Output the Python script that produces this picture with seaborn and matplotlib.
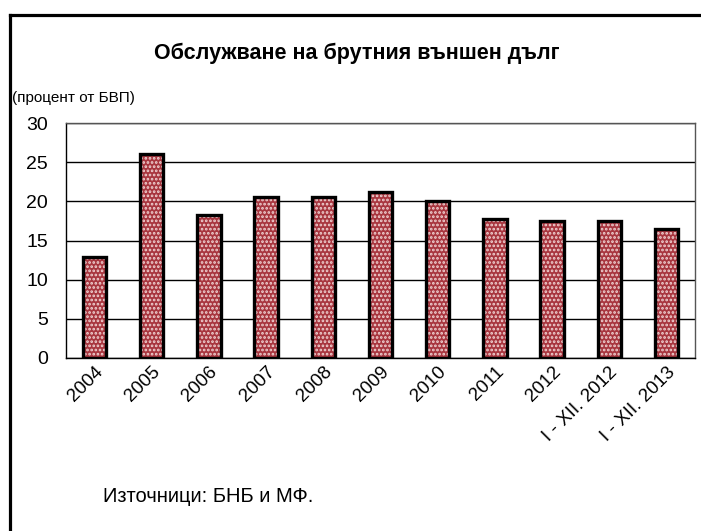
import matplotlib
matplotlib.use("Agg")
import matplotlib.pyplot as plt
from matplotlib.patches import Rectangle
from matplotlib.lines import Line2D
import seaborn as sns
import pandas as pd

categories = ["2004", "2005", "2006", "2007", "2008", "2009", "2010", "2011", "2012",
              "I - XII. 2012", "I - XII. 2013"]
values = [12.9, 26.0, 18.2, 20.5, 20.5, 21.2, 20.1, 17.7, 17.5, 17.5, 16.5]
yticks = [0, 5, 10, 15, 20, 25, 30]

title = "Обслужване на брутния външен дълг"
unit_label = "(процент от БВП)"
source = "Източници: БНБ и МФ."

sns.set_style("white")
plt.rcParams['font.family'] = ['Liberation Sans', 'DejaVu Sans']
plt.rcParams['hatch.linewidth'] = 1.3
plt.rcParams['text.color'] = 'black'
plt.rcParams['xtick.color'] = 'black'
plt.rcParams['ytick.color'] = 'black'

df = pd.DataFrame({"cat": categories, "val": values})

W, H = 701, 531
fig = plt.figure(figsize=(W / 100, H / 100), dpi=100)
ax = fig.add_axes([66 / W, 1 - 358 / H, (695 - 66) / W, (358 - 123) / H])

sns.barplot(data=df, x="cat", y="val", ax=ax, color="#a8363f", width=0.41,
            saturation=1)
for p in list(ax.patches):
    p.set_hatch("....")
    p.set_edgecolor("#f0d4d4")
    p.set_linewidth(0)
    ax.add_patch(Rectangle(p.get_xy(), p.get_width(), p.get_height(), fill=False,
                           edgecolor="black", linewidth=2.4, zorder=3))

ax.set_ylim(0, 30)
ax.set_xlim(-0.5, len(categories) - 0.5)
ax.set_yticks(yticks)
ax.set_yticklabels([str(t) for t in yticks], fontsize=14)
ax.yaxis.grid(True, color="black", linewidth=1)
ax.set_axisbelow(True)
ax.set_xlabel("")
ax.set_ylabel("")
ax.set_xticks(range(len(categories)))
ax.set_xticklabels(categories, rotation=45, ha="right", rotation_mode="anchor",
                   fontsize=13.5)
ax.tick_params(axis="x", length=0, pad=4)
ax.set_xticks([i - 0.5 for i in range(len(categories) + 1)], minor=True)
ax.tick_params(axis="x", which="minor", length=6, width=1, color="black", direction="out")
ax.tick_params(axis="y", length=5, width=1, color="black", direction="out", pad=8)
for s in ax.spines.values():
    s.set_visible(True)
    s.set_color("black")
    s.set_linewidth(1)
ax.spines["top"].set_color("#555555")
ax.spines["right"].set_color("#555555")

fig.text(357 / W, 1 - 53 / H, title, ha="center", va="center", fontsize=15.5,
         fontweight="bold", color="black")
fig.text(12 / W, 1 - 98 / H, unit_label, ha="left", va="center", fontsize=11,
         color="black")
fig.text(103 / W, 1 - 496 / H, source, ha="left", va="center", fontsize=14.5,
         color="black")

# outer frame (left and top edges visible)
lw = 2.3
fig.add_artist(Line2D([9.5 / W, 9.5 / W], [0, 1 - 14.5 / H], transform=fig.transFigure,
                      color="black", linewidth=lw, solid_capstyle="projecting"))
fig.add_artist(Line2D([9.5 / W, 1.0], [1 - 14.5 / H, 1 - 14.5 / H], transform=fig.transFigure,
                      color="black", linewidth=lw, solid_capstyle="projecting"))

fig.savefig("out.png", dpi=100)
